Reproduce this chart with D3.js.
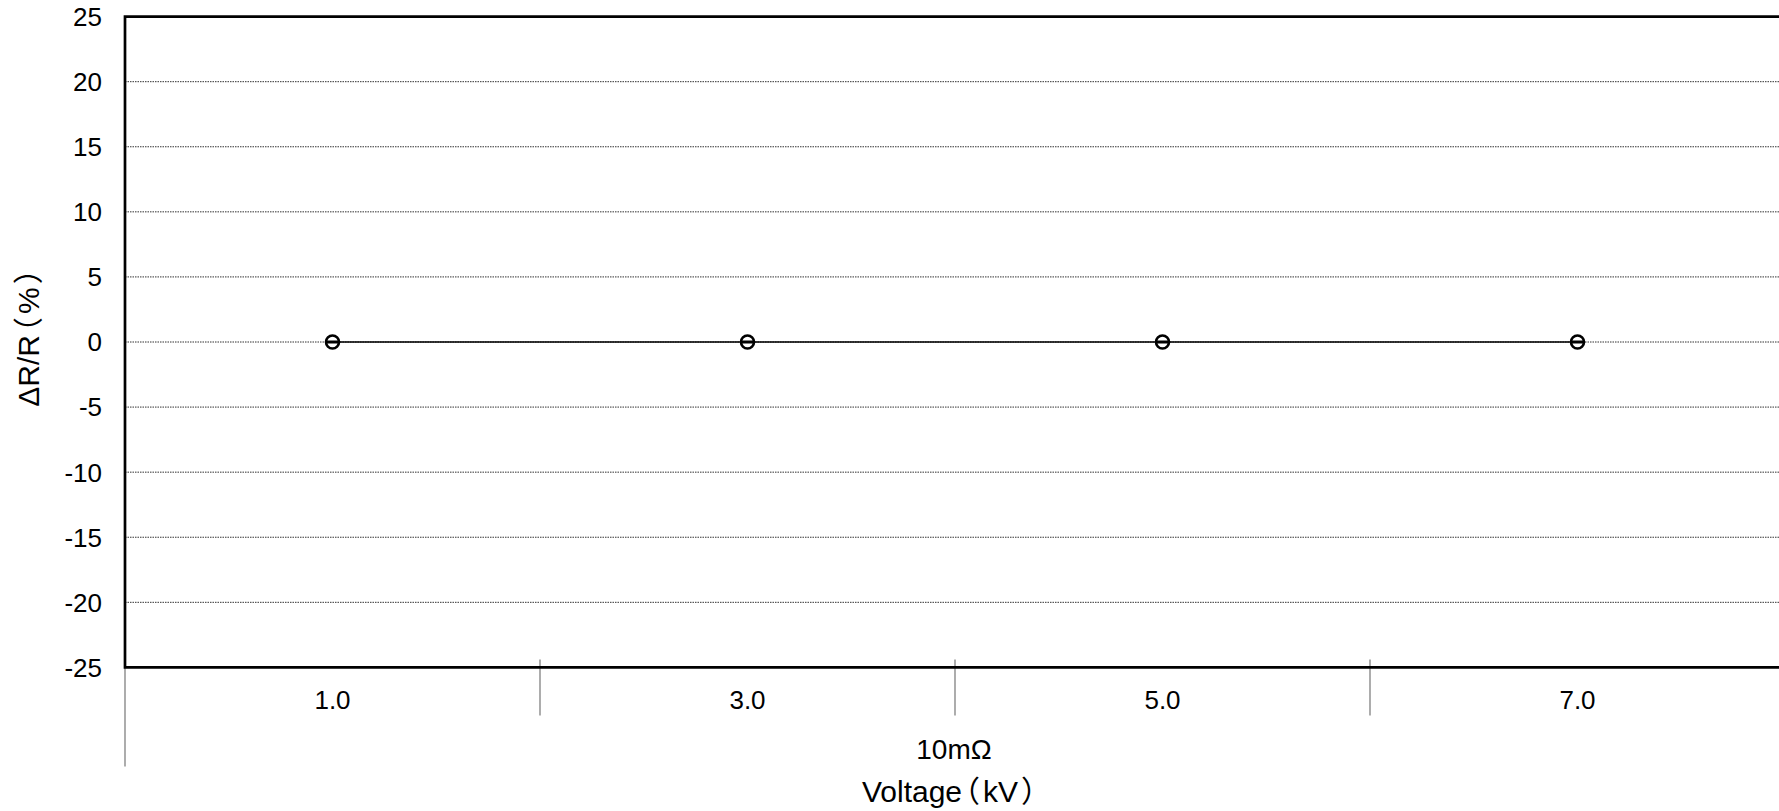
<!DOCTYPE html>
<html>
<head>
<meta charset="utf-8">
<script src="https://cdn.jsdelivr.net/npm/d3@7"></script>
<style>
  body { margin: 0; background: #fff; }
  text { font-family: "Liberation Sans", Arial, sans-serif; fill: #000; }
  tspan.bracket { font-family: "Noto Sans CJK JP", sans-serif; font-feature-settings: "halt"; }
</style>
</head>
<body>
<div id="chart"></div>
<script>
// categories and values
const voltages = ["1.0", "3.0", "5.0", "7.0"];
const deltaR = [0, 0, 0, 0];
const yTicks = [-25, -20, -15, -10, -5, 0, 5, 10, 15, 20, 25];
const groupLabel = "10mΩ";
const xTitle = ["Voltage", "（", "kV", "）"];
const yTitle = ["ΔR/R", "（", "%", "）"];

const W = 1779, H = 811;
const plotLeft = 125, plotTop = 16.6, plotRight = 1785, plotBottom = 667.4;

const svg = d3.select("#chart").append("svg")
  .attr("width", W).attr("height", H);

const x = d3.scaleBand().domain(voltages).range([plotLeft, plotRight]).padding(0);
const y = d3.scaleLinear().domain([-25, 25]).range([plotBottom, plotTop]);

// dotted gridlines
svg.append("g")
  .selectAll("line")
  .data(yTicks.filter((d) => d !== -25 && d !== 25))
  .join("line")
  .attr("x1", plotLeft).attr("x2", plotRight)
  .attr("y1", (d) => y(d)).attr("y2", (d) => y(d))
  .attr("stroke", "#333")
  .attr("stroke-width", 1)
  .attr("stroke-dasharray", "1.5,1");

// y tick labels
svg.append("g")
  .selectAll("text")
  .data(yTicks)
  .join("text")
  .attr("x", plotLeft - 23)
  .attr("y", (d) => y(d))
  .attr("dy", "0.36em")
  .attr("text-anchor", "end")
  .style("font-size", "26px")
  .text((d) => d);

// category dividers below the axis
svg.append("g")
  .selectAll("line")
  .data(voltages.slice(1))
  .join("line")
  .attr("x1", (d) => x(d)).attr("x2", (d) => x(d))
  .attr("y1", plotBottom - 8).attr("y2", plotBottom + 48)
  .attr("stroke", "#808080")
  .attr("stroke-width", 1.3);

svg.append("line")
  .attr("x1", plotLeft).attr("x2", plotLeft)
  .attr("y1", plotBottom).attr("y2", plotBottom + 99)
  .attr("stroke", "#808080")
  .attr("stroke-width", 1.3);

// category labels
svg.append("g")
  .selectAll("text")
  .data(voltages)
  .join("text")
  .attr("x", (d) => x(d) + x.bandwidth() / 2)
  .attr("y", plotBottom + 32)
  .attr("dy", "0.36em")
  .attr("text-anchor", "middle")
  .style("font-size", "26px")
  .text((d) => d);

svg.append("text")
  .attr("x", 954)
  .attr("y", plotBottom + 82)
  .attr("dy", "0.36em")
  .attr("text-anchor", "middle")
  .style("font-size", "28px")
  .text(groupLabel);

// titles: full-width brackets set half width, with a little air
function titleSpans(sel, parts) {
  sel.selectAll("tspan").data(parts).join("tspan")
    .attr("class", (d, i) => (i % 2 ? "bracket" : null))
    .attr("dx", (d, i) => (i > 0 ? 3 : 0))
    .text((d) => d);
}

svg.append("text")
  .attr("x", 949)
  .attr("y", plotBottom + 124)
  .attr("dy", "0.36em")
  .attr("text-anchor", "middle")
  .style("font-size", "30px")
  .call(titleSpans, xTitle);

svg.append("text")
  .attr("transform", `translate(28, 338) rotate(-90)`)
  .attr("dy", "0.36em")
  .attr("text-anchor", "middle")
  .style("font-size", "30px")
  .call(titleSpans, yTitle);

// frame: top, left, bottom
svg.append("path")
  .attr("d", `M${plotRight},${plotTop}H${plotLeft}V${plotBottom}H${plotRight}`)
  .attr("fill", "none")
  .attr("stroke", "#000")
  .attr("stroke-width", 2.7);

// series line
const pts = voltages.map((v, i) => ({ v, val: deltaR[i] }));
svg.append("path")
  .datum(pts)
  .attr("fill", "none")
  .attr("stroke", "#000")
  .attr("stroke-width", 1.4)
  .attr("d", d3.line()
    .x((d) => x(d.v) + x.bandwidth() / 2)
    .y((d) => y(d.val)));

// markers: open circle with a bar through it
const m = svg.append("g").selectAll("g").data(pts).join("g")
  .attr("transform", (d) => `translate(${x(d.v) + x.bandwidth() / 2},${y(d.val)})`);
m.append("circle")
  .attr("r", 6.5)
  .attr("fill", "#fff")
  .attr("stroke", "#000")
  .attr("stroke-width", 2.6);
m.append("line")
  .attr("x1", -6.5).attr("x2", 6.5)
  .attr("stroke", "#000")
  .attr("stroke-width", 3);
</script>
</body>
</html>
